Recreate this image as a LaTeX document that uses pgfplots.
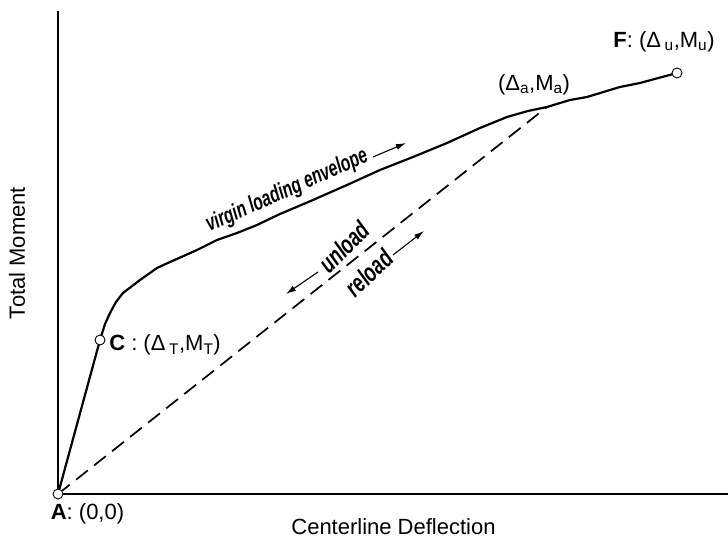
\documentclass[border=0pt]{standalone}
\usepackage{fontspec}
\setmainfont{Liberation Sans}
\usepackage{pgfplots}
\pgfplotsset{compat=1.18}
\usetikzlibrary{arrows.meta}
\begin{document}
\begin{tikzpicture}[x=1bp,y=1bp]
\path[use as bounding box] (-58,-49) rectangle (670,494);
\begin{axis}[at={(0,0)}, anchor=south west, scale only axis,
  width=670bp, height=483bp,
  xmin=0, xmax=670, ymin=0, ymax=483,
  axis x line=bottom, axis y line=left,
  axis line style={-, line width=1.3bp},
  every outer x axis line/.append style={-},
  every outer y axis line/.append style={-},
  xtick=\empty, ytick=\empty, clip=false,
  font=\fontsize{22bp}{26bp}\selectfont]
\addplot[black, line width=1.7bp, dash pattern=on 15bp off 8bp] coordinates {(0,0) (489,387)};
\addplot[black, line width=2.2bp, line join=round] coordinates {
(0,0) (42,154) (47,170) (52,181) (58,192) (65,201) (82,214) (99,226) (112,232)
(139,244) (159,254) (179,261) (199,269) (222,280) (255,294) (289,309) (322,324)
(355,337) (389,351) (422,366) (449,377) (470,383) (489,387) (512,394) (529,397)
(562,407) (582,411) (619,421)};
\addplot[only marks, mark=*, mark size=5bp, mark options={fill=white, draw=black, line width=0.9bp}] coordinates {(0,0) (42,154) (619,421)};
\node[inner sep=0] at (axis cs:29.5,-20) {\textbf{A}: (0,0)};
\node[inner sep=0] at (axis cs:107,149) {\textbf{C} : (Δ\,\textsubscript{T},M\textsubscript{T})};
\node[inner sep=0] at (axis cs:606,452) {\textbf{F}: (Δ\,\textsubscript{u},M\textsubscript{u})};
\node[inner sep=0] at (axis cs:476,409) {(Δ\textsubscript{a},M\textsubscript{a})};
\node[inner sep=0, rotate=90] at (axis cs:-41,241) {Total Moment};
\node[inner sep=0] at (axis cs:335.5,-33) {Centerline Deflection};
\node[inner sep=0, rotate=24] at (axis cs:229,303) {\scalebox{0.68}[1]{\bfseries\itshape\fontsize{23bp}{26bp}\selectfont virgin loading envelope}};
\node[inner sep=0, rotate=44] at (axis cs:286,247) {\scalebox{0.7}[1]{\bfseries\itshape\fontsize{26bp}{28bp}\selectfont unload}};
\node[inner sep=0, rotate=44] at (axis cs:311,221) {\scalebox{0.7}[1]{\bfseries\itshape\fontsize{26bp}{28bp}\selectfont reload}};
\draw[line width=1.1bp, -{Latex[length=10bp,width=6bp]}] (axis cs:315,337) -- (axis cs:348,351);
\draw[line width=1.1bp, -{Latex[length=10bp,width=6bp]}] (axis cs:260,222) -- (axis cs:228,200);
\draw[line width=1.1bp, -{Latex[length=10bp,width=6bp]}] (axis cs:335,239) -- (axis cs:366,263);
\end{axis}
\end{tikzpicture}
\end{document}
